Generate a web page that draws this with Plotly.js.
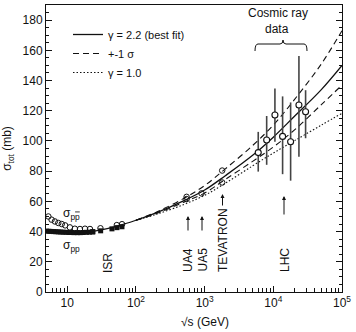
<!DOCTYPE html>
<html>
<head>
<meta charset="utf-8">
<script src="https://cdn.plot.ly/plotly-3.0.1.min.js"></script>
<style>html,body{margin:0;padding:0;background:#fff;}#chart{width:356px;height:332px;}</style>
</head>
<body>
<div id="chart"></div>
<script>
// ---- data ----
// p-pbar total cross sections (open circles), sqrt(s) in GeV, sigma in mb
const pbarpX = [5.3, 5.9, 6.6, 7.4, 8.3, 9.3, 10.9, 12.9, 15.3, 18.1, 21.4, 30.4, 52.6, 62.7, 546, 546, 900, 1800, 1800];
const pbarpY = [50.0, 47.9, 46.7, 45.7, 45.0, 44.1, 42.8, 41.9, 41.7, 41.9, 41.7, 42.2, 44.3, 44.9, 61.5, 63.0, 65.3, 80.4, 72.5];
// p-p total cross sections (filled squares)
const ppX = [5, 5.4, 5.8, 6.3, 6.8, 7.4, 8, 8.7, 9.5, 10.5, 11.5, 12.5, 14, 15.5, 17, 19, 21, 23.5, 23.5, 30.6, 44.7, 52.8, 62.5];
const ppY = [40.3, 40.2, 40.1, 40.0, 39.9, 39.8, 39.7, 39.6, 39.5, 39.4, 39.4, 39.3, 39.3, 39.3, 39.4, 39.5, 39.6, 39.7, 40.0, 40.5, 41.8, 42.6, 43.2];
// cosmic ray data with asymmetric errors
const cosmicX = [6030, 8000, 10550, 13650, 17860, 23600, 29500];
const cosmicY = [92.3, 100.6, 117.2, 103.0, 99.5, 123.8, 119.3];
const cosmicErrPlus = [13.7, 15.9, 17.6, 26.5, 26.0, 32.5, 14.3];
const cosmicErrMinus = [12.6, 16.4, 17.7, 25.0, 25.8, 34.2, 17.5];
// fit curves
const fitX = [10, 15, 20, 30, 50, 100, 200, 500, 1000, 2000, 5000, 10000, 20000, 50000, 100000];
const fitBest = [40.0, 39.8, 40.0, 41.0, 43.3, 47.5, 52.5, 60.5, 67.5, 77.0, 90.5, 102.5, 116, 134, 150];
const bandX = [100, 200, 500, 1000, 2000, 5000, 10000, 20000, 50000, 100000];
const fitPlus = [47.5, 53.0, 62.0, 70.5, 81.5, 97.0, 110.5, 127, 151, 173];
const fitMinus = [47.5, 52.0, 59.5, 65.5, 74.5, 86.5, 96.0, 107, 124, 137];
const fitGamma1 = [47.5, 51.5, 58.0, 64.0, 72.0, 83.5, 92.0, 100.0, 110.5, 118.3];
// labels
const legendLabels = ['\u03b3 = 2.2 (best fit)', '+-1 \u03c3', '\u03b3 = 1.0'];
const xTickVals = [10, 100, 1000, 10000, 100000];
const xTickText = ['10', '10<sup>2</sup>', '10<sup>3</sup>', '10<sup>4</sup>', '10<sup>5</sup>'];
const yTickVals = [0, 20, 40, 60, 80, 100, 120, 140, 160, 180];

// ---- layout helpers ----
const W = 356, H = 332, ML = 46, MR = 14, MT = 5, MB = 40;
const PW = W - ML - MR, PH = H - MT - MB;
const px = v => (v - ML) / PW;          // pixel x -> paper
const py = v => (H - MB - v) / PH;      // pixel y -> paper

const minorVals = [];
[1, 10, 100, 1000, 10000].forEach(d => { for (let k = 2; k <= 9; k++) minorVals.push(k * d); });

const font = 'Liberation Sans, Arial, Helvetica, sans-serif';
const black = '#111';

const traces = [
  {x: fitX, y: fitBest, mode: 'lines', line: {color: black, width: 1.3, shape: 'spline'}, name: legendLabels[0], showlegend: true},
  {x: bandX, y: fitPlus, mode: 'lines', line: {color: black, width: 1.1, dash: '6px,4px', shape: 'spline'}, name: legendLabels[1], legendgroup: 's', showlegend: true},
  {x: bandX, y: fitMinus, mode: 'lines', line: {color: black, width: 1.1, dash: '6px,4px', shape: 'spline'}, name: legendLabels[1], legendgroup: 's', showlegend: false},
  {x: bandX, y: fitGamma1, mode: 'lines', line: {color: black, width: 1.1, dash: '1.5px,2px', shape: 'spline'}, name: legendLabels[2], showlegend: true},
  {x: ppX, y: ppY, mode: 'markers', marker: {symbol: 'square', size: 5, color: black}, showlegend: false},
  {x: pbarpX, y: pbarpY, mode: 'markers', marker: {symbol: 'circle-open', size: 5.5, color: black, line: {width: 1, color: black}}, showlegend: false},
  {x: cosmicX, y: cosmicY, mode: 'markers', marker: {symbol: 'circle', size: 6, color: '#fff', line: {width: 1.1, color: black}},
   error_y: {type: 'data', symmetric: false, array: cosmicErrPlus, arrayminus: cosmicErrMinus, width: 0, thickness: 1.6, color: '#444'}, showlegend: false}
];

const txt = (x, y, text, extra) => Object.assign({xref: 'paper', yref: 'paper', x: px(x), y: py(y), text: text, showarrow: false,
  font: {family: font, size: 12, color: black}, xanchor: 'center', yanchor: 'middle'}, extra || {});
const arrow = (x, yTip, len) => ({xref: 'paper', yref: 'paper', x: px(x), y: py(yTip), text: '', showarrow: true, ax: 0, ay: len,
  arrowhead: 2, arrowsize: 0.8, arrowwidth: 1, arrowcolor: black});

const annotations = [
  txt(71, 214, '\u03c3<sub>p<span style="text-decoration:overline">p</span></sub>'),
  txt(71, 246, '\u03c3<sub>pp</sub>'),
  txt(108, 263, 'ISR', {textangle: -90}),
  txt(188, 260, 'UA4', {textangle: -90}),
  txt(202.5, 260, 'UA5', {textangle: -90}),
  txt(223, 240, 'TEVATRON', {textangle: -90}),
  txt(285, 260, 'LHC', {textangle: -90}),
  arrow(188, 216, 16), arrow(202, 216, 16), arrow(222.5, 194, 13), arrow(284, 196, 20),
  txt(278, 13, 'Cosmic ray'),
  txt(277, 29, 'data'),
  txt(205, 322, '\u221as (GeV)')
];

const bx = [255, 258, 280, 283, 286, 304, 307].map(px);
const byv = [51, 44, 40, 44, 51].map(py);
const bracePath = 'M' + bx[0] + ',' + byv[0] + ' Q' + bx[0] + ',' + byv[1] + ' ' + bx[1] + ',' + byv[1] +
  ' L' + bx[2] + ',' + byv[1] + ' Q' + bx[3] + ',' + byv[1] + ' ' + bx[3] + ',' + byv[2] +
  ' Q' + bx[3] + ',' + byv[1] + ' ' + bx[4] + ',' + byv[1] + ' L' + bx[5] + ',' + byv[1] +
  ' Q' + bx[6] + ',' + byv[1] + ' ' + bx[6] + ',' + byv[4];

const layout = {
  width: W, height: H,
  margin: {l: ML, r: MR, t: MT, b: MB, pad: 0},
  paper_bgcolor: '#fff', plot_bgcolor: '#fff',
  font: {family: font, size: 12, color: black},
  showlegend: true,
  legend: {x: px(68), y: py(20), xanchor: 'left', yanchor: 'top', bgcolor: 'rgba(0,0,0,0)', borderwidth: 0,
    font: {family: font, size: 11, color: black}, tracegroupgap: 0, itemwidth: 30},
  xaxis: {type: 'log', range: [0.69, 5], tickmode: 'array', tickvals: xTickVals, ticktext: xTickText,
    ticks: 'inside', ticklen: 6, tickwidth: 1, tickcolor: black, showline: true, linecolor: black, linewidth: 1, mirror: true,
    showgrid: false, zeroline: false, tickfont: {family: font, size: 12, color: black},
    minor: {tickmode: 'array', tickvals: minorVals, ticks: 'inside', ticklen: 4, tickwidth: 1, tickcolor: black, showgrid: false}},
  yaxis: {range: [0, 190], tickmode: 'array', tickvals: yTickVals, ticks: 'inside', ticklen: 6, tickwidth: 1, tickcolor: black,
    showline: true, linecolor: black, linewidth: 1, mirror: 'ticks', showgrid: false, zeroline: false,
    tickfont: {family: font, size: 12, color: black},
    minor: {dtick: 5, ticks: 'inside', ticklen: 3, tickwidth: 1, tickcolor: black, showgrid: false},
    title: {text: '\u03c3<sub>tot</sub> (mb)', font: {family: font, size: 12, color: black}, standoff: 10}},
  annotations: annotations,
  shapes: [{type: 'path', xref: 'paper', yref: 'paper', path: bracePath, line: {color: black, width: 1}}]
};

Plotly.newPlot('chart', traces, layout, {displayModeBar: false, staticPlot: true});
</script>
</body>
</html>
